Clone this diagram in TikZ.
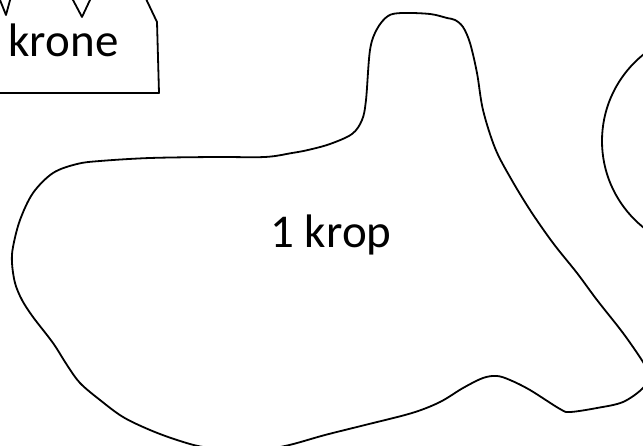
\documentclass[tikz,border=0pt]{standalone}
\usepackage{fontspec}
\setmainfont{Carlito}
\begin{document}
\begin{tikzpicture}[x=1pt,y=-1pt,
  outline/.style={draw=black, line width=1.8pt, line join=round},
  txt/.style={font=\fontsize{47}{56}\selectfont, inner sep=0pt, anchor=base}]
\useasboundingbox (0,0) rectangle (643,446);
\clip (0,0) rectangle (643,446);
\fill[white] (0,0) rectangle (643,446);
% crown
\draw[outline] (-30,93) -- (159,93) -- (157,22) -- (137,-20) -- (99.4,-20) -- (82,17) -- (62.4,-20)
  -- (15.5,-20) -- (6,15) -- (-8,-20) -- (-30,-20) -- cycle;
% body blob
\draw[outline] plot[smooth cycle, tension=0.55] coordinates {
  (215,157) (150,158) (100,161) (77,164) (53,173) (33,193) (20,220) (13,247) (12,263)
  (15,283) (22,300) (33,317) (53,343) (67,365) (80,383) (100,400) (123,417) (150,430)
  (177,440) (203,447) (244,452) (285,446) (325,435) (365,425) (412,413) (440,402)
  (463,388) (483,378) (497,376) (510,380) (530,390) (560,409) (570,412) (597,408)
  (623,402) (643,388) (649,375) (643,362) (623,333) (597,300) (577,273) (553,243)
  (530,210) (510,177) (495,148) (483,110) (477,73) (470,43) (463,27) (455,20) (447,18)
  (430,14) (402,13) (388,16) (377,29) (370,50) (366,100) (362,120) (352,134) (330,144)
  (308,150) (292,153) (265,157)};
% circle at right
\draw[outline] (713,141) circle[radius=111];
\node[txt] (krone) at (63.5,57) {krone};
\node[txt] (krop) at (331,248) {1 krop};
\end{tikzpicture}
\end{document}
